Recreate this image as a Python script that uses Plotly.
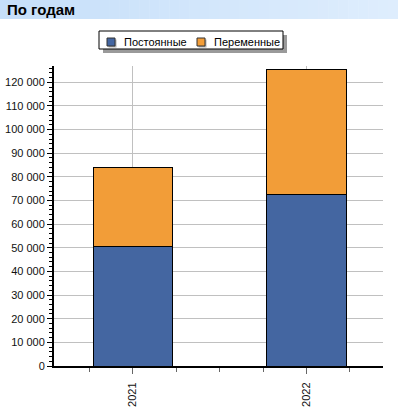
import plotly.graph_objects as go

years = ["2021", "2022"]
series_names = ["Постоянные", "Переменные"]
fixed_vals = [50500, 72600]
variable_vals = [33500, 52900]
colors = ["#4466a1", "#f29d38"]

W, H = 398, 420
L, R, T, B = 54, 15, 66, 54
pw, ph = W - L - R, H - T - B

def px(x):
    return (x - L) / pw

def py(y):
    return (H - B - y) / ph

def prect(x0, y0, x1, y1, fill, line=None, layer="above"):
    return dict(type="rect", xref="paper", yref="paper",
                x0=px(x0), x1=px(x1), y0=py(y1), y1=py(y0),
                fillcolor=fill,
                line=line if line else dict(width=0), layer=layer)

xpos = list(range(len(years)))

fig = go.Figure()
for name, vals, col in zip(series_names, [fixed_vals, variable_vals], colors):
    fig.add_trace(go.Bar(
        x=xpos, y=vals, name=name, width=0.455,
        marker=dict(color=col, line=dict(color="black", width=1)),
    ))

shapes = []
# title bar gradient
n = 40
c0 = (198, 223, 249)
c1 = (222, 237, 253)
for i in range(n):
    t = i / (n - 1)
    c = tuple(int(round(a + (b - a) * t)) for a, b in zip(c0, c1))
    shapes.append(prect(W * i / n, 0, W * (i + 1) / n + 0.5, 19,
                        "rgb(%d,%d,%d)" % c, layer="below"))

# custom legend: shadow, box, swatches
shapes.append(prect(103, 35, 287, 53, "#9a9a9a"))
shapes.append(prect(99, 31, 283, 49, "white", dict(color="black", width=1)))
annotations = [dict(
    text="<b>По годам</b>", xref="paper", yref="paper",
    x=px(5), y=py(9.5), xanchor="left", yanchor="middle",
    showarrow=False, font=dict(size=15, color="black",
                               family="Liberation Sans, Arial, sans-serif"),
)]
sw_x = [107, 197]
tx_x = [122, 212]
for name, col, sx, tx in zip(series_names, colors, sw_x, tx_x):
    shapes.append(prect(sx + 1.5, 39.5, sx + 9.5, 47.5, "#b0b0b0"))
    shapes.append(prect(sx, 38, sx + 8, 46, col, dict(color="#333", width=1)))
    annotations.append(dict(
        text=name,
        xref="paper", yref="paper", x=px(tx), y=py(42),
        xanchor="left", yanchor="middle", showarrow=False,
        font=dict(size=11, color="black",
                  family="Liberation Sans, Arial, sans-serif"),
    ))

fig.update_layout(
    template="none",
    width=W, height=H,
    margin=dict(l=L, r=R, t=T, b=B, autoexpand=False),
    paper_bgcolor="white", plot_bgcolor="white",
    barmode="stack",
    separators=", ",
    font=dict(family="Liberation Sans, Arial, sans-serif", size=11, color="#111"),
    showlegend=False,
    shapes=shapes,
    annotations=annotations,
    xaxis=dict(
        automargin=False,
        range=[-0.453, 1.44],
        tickvals=xpos, ticktext=years, tickangle=-90,
        showline=True, linecolor="black", linewidth=2,
        ticks="outside", ticklen=6, tickcolor="#666", tickwidth=1,
        ticklabelstandoff=4,
        showgrid=True, gridcolor="#c0c0c0", gridwidth=1,
        zeroline=False,
        minor=dict(dtick=0.25, tick0=0, ticks="outside", ticklen=4,
                   tickcolor="#666", showgrid=False),
        tickfont=dict(size=11, color="#111"),
        fixedrange=True,
    ),
    yaxis=dict(
        automargin=False,
        range=[0, 126900], dtick=10000, tickformat=",d",
        showline=True, linecolor="black", linewidth=2,
        ticks="outside", ticklen=5, tickcolor="black", tickwidth=1,
        showgrid=True, gridcolor="#c0c0c0", gridwidth=1,
        zeroline=False,
        minor=dict(dtick=2000, ticks="outside", ticklen=3,
                   tickcolor="black", showgrid=False),
        tickfont=dict(size=11, color="#111"),
        fixedrange=True,
    ),
)

fig.write_html("out.html", config={"displayModeBar": False},
               post_script="document.body.style.margin='0';document.body.style.overflow='hidden';")
